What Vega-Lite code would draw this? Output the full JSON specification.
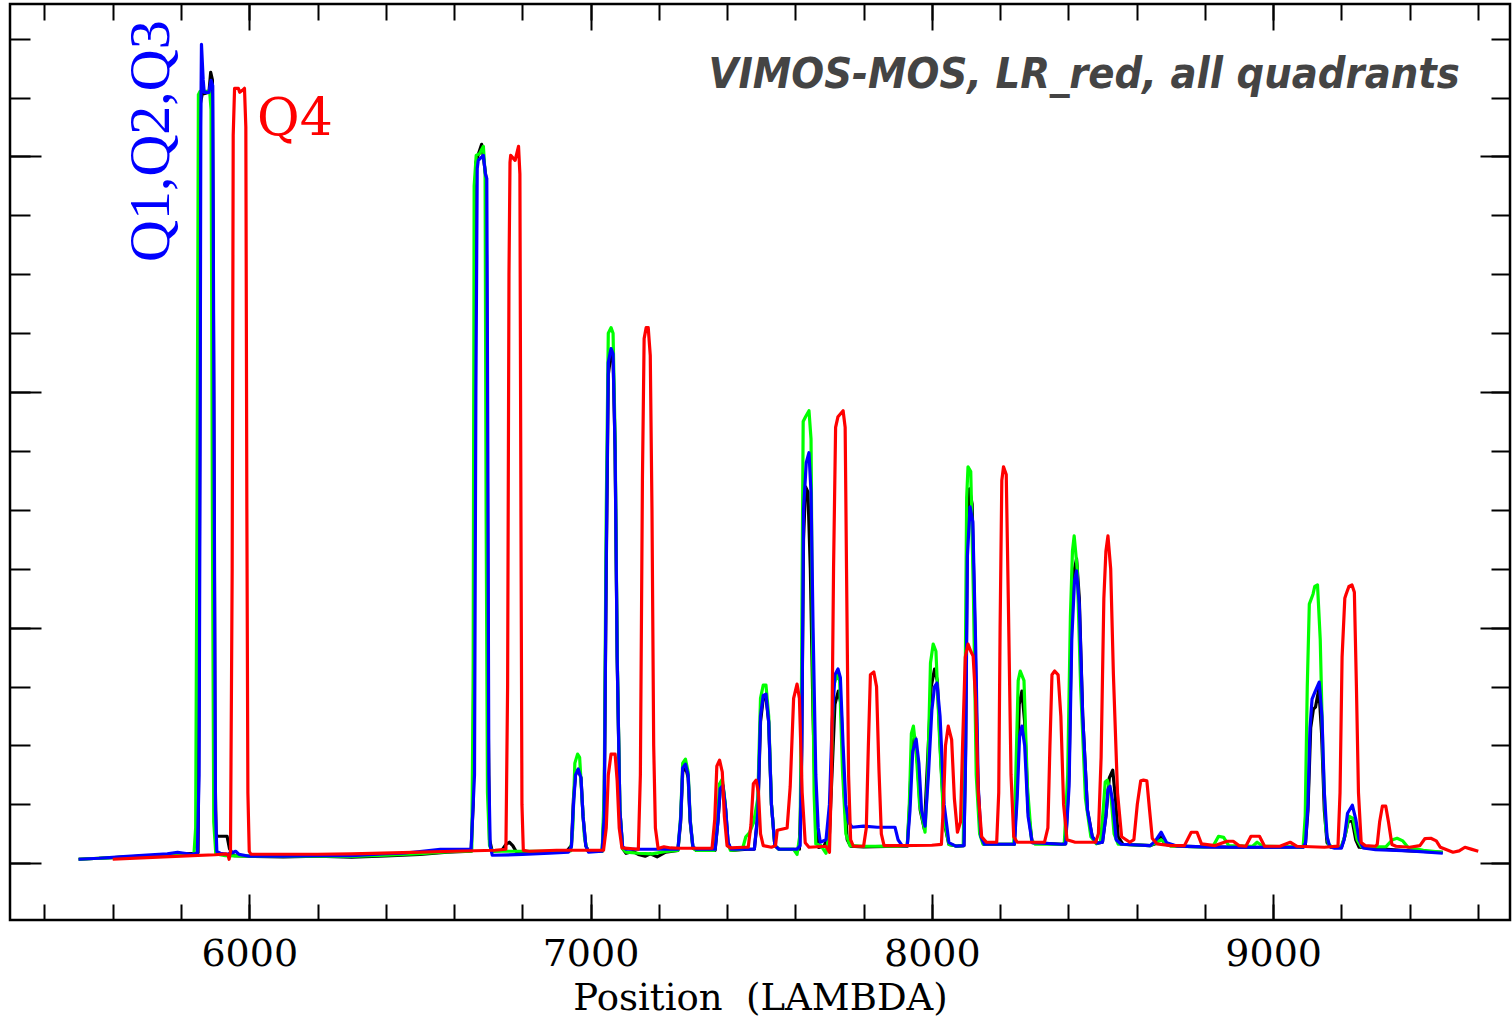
{
  "$schema": "https://vega.github.io/schema/vega-lite/v6.json",
  "width": 1500,
  "height": 916,
  "autosize": {"type": "none"},
  "padding": {"left": 10, "top": 4, "right": 2, "bottom": 97},
  "background": "white",
  "config": {
    "view": {"stroke": "black", "strokeWidth": 2.5},
    "axis": {"grid": false, "domain": false, "tickColor": "black", "tickWidth": 2, "labels": false}
  },
  "datasets": {
    "k": [
      {"x":5500,"y":68},{"x":5560,"y":85},{"x":5620,"y":100},{"x":5700,"y":125},{"x":5780,"y":150},{"x":5840,"y":170},{"x":5850,"y":180},
      {"x":5853,"y":3000},{"x":5857,"y":12900},{"x":5862,"y":13056},{"x":5882,"y":13090},{"x":5887,"y":13430},{"x":5892,"y":13300},{"x":5896,"y":8000},{"x":5900,"y":1500},{"x":5903,"y":480},{"x":5908,"y":459},{"x":5935,"y":459},{"x":5942,"y":250},{"x":5955,"y":130},
      {"x":6000,"y":119},{"x":6100,"y":110},{"x":6200,"y":119},{"x":6300,"y":102},{"x":6400,"y":125},{"x":6500,"y":150},{"x":6580,"y":190},{"x":6650,"y":204},
      {"x":6656,"y":1000},{"x":6660,"y":8000},{"x":6664,"y":11900},{"x":6672,"y":12050},{"x":6681,"y":12206},{"x":6688,"y":11900},{"x":6694,"y":11628},{"x":6697,"y":8000},{"x":6700,"y":2500},{"x":6704,"y":400},{"x":6712,"y":204},{"x":6740,"y":220},{"x":6752,"y":320},{"x":6762,"y":357},{"x":6772,"y":300},{"x":6782,"y":200},{"x":6820,"y":180},{"x":6880,"y":190},{"x":6930,"y":204},
      {"x":6944,"y":300},{"x":6950,"y":1100},{"x":6956,"y":1500},{"x":6964,"y":1598},{"x":6972,"y":1450},{"x":6978,"y":800},{"x":6986,"y":300},{"x":6994,"y":200},
      {"x":7034,"y":204},{"x":7040,"y":900},{"x":7046,"y":5000},{"x":7052,"y":8300},{"x":7060,"y":8653},{"x":7066,"y":8600},{"x":7072,"y":7000},{"x":7078,"y":3500},{"x":7086,"y":900},{"x":7094,"y":250},{"x":7104,"y":170},{"x":7125,"y":200},{"x":7140,"y":150},{"x":7160,"y":120},{"x":7175,"y":160},{"x":7195,"y":110},{"x":7220,"y":190},
      {"x":7256,"y":220},{"x":7264,"y":700},{"x":7270,"y":1550},{"x":7278,"y":1649},{"x":7286,"y":1450},{"x":7292,"y":700},{"x":7300,"y":260},{"x":7310,"y":220},
      {"x":7365,"y":220},{"x":7373,"y":700},{"x":7380,"y":1250},{"x":7388,"y":1309},{"x":7396,"y":900},{"x":7403,"y":350},{"x":7412,"y":220},{"x":7460,"y":238},
      {"x":7480,"y":240},{"x":7490,"y":800},{"x":7498,"y":2400},{"x":7506,"y":2800},{"x":7514,"y":2822},{"x":7522,"y":2400},{"x":7530,"y":1000},{"x":7540,"y":300},{"x":7552,"y":238},{"x":7600,"y":238},
      {"x":7612,"y":238},{"x":7618,"y":1500},{"x":7624,"y":5500},{"x":7630,"y":6392},{"x":7637,"y":6300},{"x":7644,"y":5000},{"x":7652,"y":2500},{"x":7660,"y":700},{"x":7668,"y":270},
      {"x":7684,"y":290},{"x":7700,"y":500},{"x":7708,"y":1600},{"x":7716,"y":2700},{"x":7726,"y":2924},{"x":7734,"y":2700},{"x":7742,"y":1300},{"x":7752,"y":400},{"x":7762,"y":290},{"x":7800,"y":280},{"x":7900,"y":290},
      {"x":7928,"y":290},{"x":7934,"y":900},{"x":7942,"y":2000},{"x":7950,"y":2142},{"x":7958,"y":1700},{"x":7966,"y":900},{"x":7978,"y":578},
      {"x":7988,"y":1800},{"x":7998,"y":3000},{"x":8008,"y":3298},{"x":8016,"y":3100},{"x":8026,"y":1800},{"x":8036,"y":700},{"x":8050,"y":320},{"x":8075,"y":290},
      {"x":8094,"y":300},{"x":8099,"y":2000},{"x":8104,"y":5600},{"x":8110,"y":6358},{"x":8118,"y":6100},{"x":8126,"y":4000},{"x":8134,"y":1500},{"x":8142,"y":500},{"x":8152,"y":323},{"x":8230,"y":323},
      {"x":8242,"y":323},{"x":8250,"y":1400},{"x":8256,"y":2700},{"x":8264,"y":2924},{"x":8272,"y":2400},{"x":8282,"y":900},{"x":8294,"y":350},{"x":8380,"y":323},
      {"x":8392,"y":330},{"x":8402,"y":1500},{"x":8410,"y":4300},{"x":8418,"y":5000},{"x":8424,"y":5168},{"x":8432,"y":4500},{"x":8442,"y":2500},{"x":8456,"y":900},{"x":8470,"y":450},{"x":8484,"y":340},
      {"x":8500,"y":360},{"x":8510,"y":800},{"x":8520,"y":1450},{"x":8530,"y":1581},{"x":8538,"y":1100},{"x":8546,"y":450},{"x":8560,"y":323},{"x":8640,"y":300},
      {"x":8655,"y":330},{"x":8668,"y":459},{"x":8685,"y":320},{"x":8720,"y":290},{"x":8800,"y":280},{"x":8900,"y":272},{"x":9000,"y":272},{"x":9085,"y":272},
      {"x":9094,"y":290},{"x":9102,"y":900},{"x":9110,"y":2300},{"x":9118,"y":2618},{"x":9124,"y":2650},{"x":9134,"y":2958},{"x":9142,"y":2200},{"x":9150,"y":900},{"x":9158,"y":350},{"x":9170,"y":272},
      {"x":9200,"y":272},{"x":9210,"y":450},{"x":9220,"y":714},{"x":9232,"y":714},{"x":9242,"y":400},{"x":9252,"y":272},{"x":9300,"y":250},{"x":9400,"y":210},{"x":9497,"y":187}
    ],
    "g": [
      {"x":5500,"y":68},{"x":5560,"y":85},{"x":5620,"y":100},{"x":5700,"y":120},{"x":5780,"y":135},{"x":5838,"y":153},
      {"x":5843,"y":600},{"x":5847,"y":6000},{"x":5851,"y":13050},{"x":5856,"y":13107},{"x":5884,"y":13107},{"x":5888,"y":12800},{"x":5892,"y":6000},{"x":5896,"y":700},{"x":5902,"y":160},{"x":5930,"y":130},{"x":5960,"y":125},
      {"x":6100,"y":119},{"x":6200,"y":119},{"x":6300,"y":115},{"x":6400,"y":140},{"x":6500,"y":165},{"x":6600,"y":200},{"x":6652,"y":204},
      {"x":6656,"y":3000},{"x":6659,"y":11500},{"x":6665,"y":12019},{"x":6675,"y":12050},{"x":6686,"y":12172},{"x":6691,"y":11700},{"x":6694,"y":6000},{"x":6698,"y":1200},{"x":6704,"y":300},{"x":6712,"y":204},{"x":6800,"y":204},{"x":6900,"y":204},
      {"x":6942,"y":210},{"x":6948,"y":600},{"x":6954,"y":1700},{"x":6962,"y":1853},{"x":6968,"y":1800},{"x":6974,"y":1200},{"x":6982,"y":450},{"x":6990,"y":220},
      {"x":7034,"y":204},{"x":7040,"y":1200},{"x":7046,"y":6000},{"x":7052,"y":9000},{"x":7060,"y":9095},{"x":7066,"y":9000},{"x":7072,"y":7200},{"x":7078,"y":3600},{"x":7086,"y":900},{"x":7094,"y":250},{"x":7104,"y":190},{"x":7140,"y":170},{"x":7180,"y":160},{"x":7220,"y":200},
      {"x":7256,"y":220},{"x":7264,"y":800},{"x":7270,"y":1700},{"x":7278,"y":1768},{"x":7286,"y":1550},{"x":7292,"y":750},{"x":7300,"y":260},{"x":7310,"y":220},
      {"x":7363,"y":220},{"x":7371,"y":650},{"x":7378,"y":1350},{"x":7386,"y":1428},{"x":7394,"y":1050},{"x":7401,"y":350},{"x":7410,"y":220},{"x":7445,"y":238},{"x":7455,"y":450},{"x":7466,"y":520},
      {"x":7478,"y":700},{"x":7490,"y":1100},{"x":7498,"y":2800},{"x":7506,"y":3026},{"x":7514,"y":3026},{"x":7522,"y":2500},{"x":7530,"y":1000},{"x":7540,"y":300},{"x":7552,"y":238},{"x":7595,"y":238},{"x":7605,"y":150},
      {"x":7614,"y":500},{"x":7618,"y":3000},{"x":7623,"y":7500},{"x":7630,"y":7582},{"x":7640,"y":7684},{"x":7646,"y":7200},{"x":7650,"y":4000},{"x":7655,"y":1200},{"x":7660,"y":330},{"x":7675,"y":300},{"x":7690,"y":170},
      {"x":7696,"y":400},{"x":7704,"y":1300},{"x":7712,"y":3000},{"x":7722,"y":3213},{"x":7730,"y":3100},{"x":7738,"y":1600},{"x":7748,"y":500},{"x":7760,"y":300},{"x":7800,"y":289},{"x":7900,"y":289},
      {"x":7928,"y":300},{"x":7934,"y":1000},{"x":7940,"y":2200},{"x":7946,"y":2329},{"x":7954,"y":1900},{"x":7964,"y":1000},{"x":7980,"y":527},
      {"x":7988,"y":1500},{"x":7996,"y":3400},{"x":8004,"y":3723},{"x":8012,"y":3600},{"x":8022,"y":2200},{"x":8034,"y":800},{"x":8050,"y":320},{"x":8075,"y":290},
      {"x":8092,"y":300},{"x":8097,"y":2500},{"x":8102,"y":6200},{"x":8106,"y":6732},{"x":8114,"y":6650},{"x":8122,"y":4500},{"x":8130,"y":1500},{"x":8140,"y":500},{"x":8150,"y":323},{"x":8230,"y":323},
      {"x":8240,"y":330},{"x":8246,"y":1500},{"x":8253,"y":3100},{"x":8259,"y":3264},{"x":8270,"y":3100},{"x":8280,"y":1300},{"x":8292,"y":400},{"x":8303,"y":323},{"x":8380,"y":323},
      {"x":8388,"y":330},{"x":8398,"y":1500},{"x":8406,"y":4200},{"x":8412,"y":5300},{"x":8417,"y":5559},{"x":8426,"y":5000},{"x":8436,"y":3000},{"x":8450,"y":1100},{"x":8466,"y":450},{"x":8482,"y":330},
      {"x":8494,"y":360},{"x":8502,"y":900},{"x":8508,"y":1380},{"x":8514,"y":1411},{"x":8524,"y":1200},{"x":8534,"y":500},{"x":8546,"y":323},{"x":8640,"y":300},{"x":8672,"y":400},{"x":8700,"y":290},{"x":8800,"y":280},
      {"x":8825,"y":300},{"x":8840,"y":459},{"x":8855,"y":440},{"x":8870,"y":300},{"x":8940,"y":289},{"x":8953,"y":357},{"x":8970,"y":290},{"x":9050,"y":280},{"x":9088,"y":280},
      {"x":9094,"y":800},{"x":9100,"y":3000},{"x":9106,"y":4400},{"x":9117,"y":4573},{"x":9122,"y":4700},{"x":9130,"y":4726},{"x":9138,"y":3800},{"x":9146,"y":1800},{"x":9154,"y":600},{"x":9162,"y":320},{"x":9172,"y":280},
      {"x":9200,"y":280},{"x":9212,"y":500},{"x":9222,"y":799},{"x":9234,"y":760},{"x":9246,"y":400},{"x":9258,"y":280},{"x":9330,"y":280},{"x":9350,"y":400},{"x":9363,"y":425},{"x":9380,"y":380},{"x":9395,"y":272},{"x":9440,"y":220},{"x":9497,"y":187}
    ],
    "u": [
      {"x":5500,"y":68},{"x":5560,"y":85},{"x":5620,"y":110},{"x":5700,"y":140},{"x":5760,"y":160},{"x":5790,"y":187},{"x":5810,"y":170},{"x":5830,"y":153},{"x":5848,"y":170},
      {"x":5853,"y":1500},{"x":5856,"y":7000},{"x":5858,"y":12500},{"x":5860,"y":13906},{"x":5865,"y":13300},{"x":5868,"y":13090},{"x":5882,"y":13090},{"x":5888,"y":13294},{"x":5893,"y":13200},{"x":5897,"y":7000},{"x":5901,"y":900},{"x":5905,"y":200},{"x":5915,"y":170},{"x":5935,"y":153},{"x":5950,"y":180},{"x":5960,"y":204},{"x":5970,"y":150},{"x":6000,"y":119},
      {"x":6100,"y":119},{"x":6200,"y":130},{"x":6300,"y":130},{"x":6400,"y":165},{"x":6450,"y":170},{"x":6500,"y":200},{"x":6560,"y":238},{"x":6650,"y":238},
      {"x":6660,"y":1500},{"x":6664,"y":8000},{"x":6668,"y":11800},{"x":6671,"y":11934},{"x":6686,"y":12019},{"x":6692,"y":11700},{"x":6696,"y":11628},{"x":6699,"y":7000},{"x":6702,"y":1500},{"x":6706,"y":300},{"x":6712,"y":136},{"x":6800,"y":150},{"x":6880,"y":170},{"x":6935,"y":187},
      {"x":6944,"y":280},{"x":6950,"y":1000},{"x":6956,"y":1500},{"x":6964,"y":1598},{"x":6972,"y":1450},{"x":6978,"y":800},{"x":6986,"y":300},{"x":6994,"y":190},
      {"x":7034,"y":204},{"x":7040,"y":800},{"x":7046,"y":5200},{"x":7052,"y":8500},{"x":7060,"y":8738},{"x":7066,"y":8650},{"x":7072,"y":7000},{"x":7078,"y":3500},{"x":7086,"y":900},{"x":7094,"y":280},{"x":7104,"y":238},{"x":7150,"y":238},{"x":7200,"y":238},
      {"x":7256,"y":238},{"x":7264,"y":750},{"x":7270,"y":1620},{"x":7278,"y":1683},{"x":7286,"y":1500},{"x":7292,"y":720},{"x":7300,"y":280},{"x":7310,"y":238},
      {"x":7365,"y":238},{"x":7373,"y":700},{"x":7380,"y":1270},{"x":7388,"y":1326},{"x":7396,"y":920},{"x":7403,"y":350},{"x":7412,"y":238},{"x":7460,"y":238},
      {"x":7480,"y":240},{"x":7490,"y":850},{"x":7498,"y":2500},{"x":7506,"y":2850},{"x":7514,"y":2873},{"x":7522,"y":2400},{"x":7530,"y":1000},{"x":7540,"y":300},{"x":7552,"y":238},{"x":7605,"y":238},
      {"x":7614,"y":300},{"x":7619,"y":2000},{"x":7624,"y":6000},{"x":7632,"y":6800},{"x":7640,"y":6970},{"x":7646,"y":6300},{"x":7652,"y":4000},{"x":7660,"y":1500},{"x":7667,"y":600},{"x":7673,"y":357},
      {"x":7690,"y":400},{"x":7700,"y":1000},{"x":7708,"y":2400},{"x":7716,"y":3200},{"x":7725,"y":3298},{"x":7732,"y":3150},{"x":7740,"y":2000},{"x":7748,"y":1000},{"x":7756,"y":700},{"x":7766,"y":612},{"x":7800,"y":630},{"x":7840,"y":612},{"x":7892,"y":612},{"x":7901,"y":400},{"x":7913,"y":300},
      {"x":7928,"y":300},{"x":7936,"y":900},{"x":7944,"y":1900},{"x":7954,"y":2108},{"x":7962,"y":1700},{"x":7970,"y":900},{"x":7980,"y":629},
      {"x":7990,"y":1500},{"x":8000,"y":2600},{"x":8008,"y":3000},{"x":8015,"y":3060},{"x":8024,"y":2500},{"x":8036,"y":1000},{"x":8050,"y":350},{"x":8070,"y":290},
      {"x":8094,"y":300},{"x":8099,"y":1800},{"x":8104,"y":5200},{"x":8112,"y":6052},{"x":8120,"y":5800},{"x":8128,"y":3800},{"x":8136,"y":1300},{"x":8144,"y":450},{"x":8154,"y":323},{"x":8230,"y":323},
      {"x":8242,"y":323},{"x":8250,"y":1100},{"x":8257,"y":2150},{"x":8264,"y":2329},{"x":8272,"y":2000},{"x":8282,"y":800},{"x":8294,"y":350},{"x":8380,"y":323},
      {"x":8392,"y":330},{"x":8402,"y":1300},{"x":8410,"y":3800},{"x":8418,"y":4800},{"x":8424,"y":4964},{"x":8432,"y":4400},{"x":8442,"y":2500},{"x":8456,"y":900},{"x":8470,"y":450},{"x":8484,"y":340},
      {"x":8500,"y":360},{"x":8510,"y":800},{"x":8516,"y":1250},{"x":8522,"y":1309},{"x":8530,"y":1050},{"x":8540,"y":400},{"x":8555,"y":323},{"x":8640,"y":300},
      {"x":8655,"y":380},{"x":8672,"y":527},{"x":8688,"y":350},{"x":8720,"y":290},{"x":8800,"y":280},{"x":8900,"y":272},{"x":9000,"y":272},{"x":9088,"y":272},
      {"x":9095,"y":350},{"x":9102,"y":1000},{"x":9108,"y":2300},{"x":9114,"y":2788},{"x":9122,"y":2900},{"x":9135,"y":3077},{"x":9143,"y":2500},{"x":9150,"y":1200},{"x":9158,"y":450},{"x":9166,"y":280},{"x":9180,"y":255},
      {"x":9200,"y":255},{"x":9208,"y":400},{"x":9218,"y":850},{"x":9232,"y":986},{"x":9242,"y":750},{"x":9252,"y":400},{"x":9264,"y":260},{"x":9300,"y":230},{"x":9400,"y":210},{"x":9497,"y":170}
    ],
    "r": [
      {"x":5600,"y":68},{"x":5700,"y":95},{"x":5800,"y":120},{"x":5900,"y":145},{"x":5932,"y":160},{"x":5938,"y":140},{"x":5941,"y":68},{"x":5945,"y":200},
      {"x":5950,"y":5000},{"x":5953,"y":12359},{"x":5957,"y":13158},{"x":5968,"y":13158},{"x":5972,"y":13090},{"x":5980,"y":13124},{"x":5986,"y":13158},{"x":5990,"y":12500},{"x":5993,"y":6000},{"x":5996,"y":1200},{"x":6000,"y":200},{"x":6005,"y":153},{"x":6100,"y":153},{"x":6200,"y":153},{"x":6300,"y":160},{"x":6450,"y":180},{"x":6600,"y":204},{"x":6720,"y":221},{"x":6752,"y":238},
      {"x":6757,"y":3000},{"x":6761,"y":10000},{"x":6764,"y":11900},{"x":6766,"y":12019},{"x":6779,"y":11934},{"x":6789,"y":12172},{"x":6793,"y":11700},{"x":6796,"y":6000},{"x":6799,"y":1000},{"x":6803,"y":220},{"x":6820,"y":204},{"x":6900,"y":221},{"x":7000,"y":221},{"x":7038,"y":221},
      {"x":7046,"y":600},{"x":7052,"y":1500},{"x":7060,"y":1853},{"x":7072,"y":1853},{"x":7078,"y":1400},{"x":7084,"y":600},{"x":7092,"y":260},
      {"x":7140,"y":238},{"x":7146,"y":1500},{"x":7152,"y":6500},{"x":7157,"y":8908},{"x":7163,"y":9095},{"x":7169,"y":9095},{"x":7175,"y":8619},{"x":7180,"y":6000},{"x":7185,"y":2000},{"x":7190,"y":600},{"x":7198,"y":250},{"x":7215,"y":280},{"x":7235,"y":260},{"x":7260,"y":255},
      {"x":7356,"y":255},{"x":7364,"y":750},{"x":7370,"y":1650},{"x":7378,"y":1751},{"x":7386,"y":1550},{"x":7392,"y":800},{"x":7400,"y":300},{"x":7410,"y":260},{"x":7450,"y":272},
      {"x":7462,"y":272},{"x":7470,"y":650},{"x":7477,"y":1350},{"x":7485,"y":1411},{"x":7492,"y":1200},{"x":7498,"y":500},{"x":7506,"y":300},{"x":7530,"y":272},{"x":7542,"y":300},{"x":7547,"y":560},{"x":7576,"y":600},
      {"x":7585,"y":1300},{"x":7595,"y":2800},{"x":7605,"y":3043},{"x":7612,"y":2800},{"x":7620,"y":1200},{"x":7629,"y":350},{"x":7640,"y":272},{"x":7690,"y":289},{"x":7700,"y":187},
      {"x":7706,"y":1500},{"x":7712,"y":5000},{"x":7718,"y":7400},{"x":7725,"y":7582},{"x":7740,"y":7684},{"x":7746,"y":7400},{"x":7750,"y":5000},{"x":7756,"y":1500},{"x":7762,"y":400},{"x":7770,"y":289},{"x":7800,"y":289},
      {"x":7808,"y":600},{"x":7814,"y":2000},{"x":7820,"y":3200},{"x":7830,"y":3247},{"x":7838,"y":3000},{"x":7845,"y":1600},{"x":7852,"y":500},{"x":7860,"y":300},{"x":7900,"y":300},{"x":8000,"y":306},{"x":8028,"y":320},
      {"x":8034,"y":1000},{"x":8040,"y":2000},{"x":8048,"y":2329},{"x":8058,"y":2100},{"x":8066,"y":1100},{"x":8075,"y":527},{"x":8084,"y":700},
      {"x":8090,"y":2000},{"x":8098,"y":3500},{"x":8106,"y":3723},{"x":8114,"y":3600},{"x":8121,"y":3519},{"x":8128,"y":2800},{"x":8136,"y":1200},{"x":8146,"y":450},{"x":8160,"y":357},{"x":8190,"y":357},
      {"x":8196,"y":1200},{"x":8200,"y":4000},{"x":8205,"y":6500},{"x":8210,"y":6732},{"x":8218,"y":6600},{"x":8224,"y":4500},{"x":8232,"y":1500},{"x":8240,"y":450},{"x":8250,"y":357},{"x":8330,"y":357},
      {"x":8340,"y":600},{"x":8346,"y":2000},{"x":8352,"y":3200},{"x":8360,"y":3264},{"x":8370,"y":3200},{"x":8378,"y":2500},{"x":8386,"y":1000},{"x":8396,"y":400},{"x":8420,"y":357},{"x":8480,"y":357},
      {"x":8488,"y":500},{"x":8496,"y":1800},{"x":8504,"y":4500},{"x":8510,"y":5300},{"x":8516,"y":5559},{"x":8524,"y":5000},{"x":8532,"y":3200},{"x":8544,"y":1200},{"x":8556,"y":450},{"x":8580,"y":357},
      {"x":8592,"y":400},{"x":8602,"y":1000},{"x":8612,"y":1400},{"x":8620,"y":1411},{"x":8630,"y":1400},{"x":8638,"y":900},{"x":8646,"y":420},{"x":8660,"y":330},{"x":8700,"y":300},{"x":8740,"y":300},{"x":8760,"y":527},{"x":8777,"y":527},{"x":8790,"y":330},{"x":8830,"y":300},{"x":8865,"y":374},{"x":8883,"y":374},{"x":8900,"y":300},{"x":8920,"y":289},{"x":8935,"y":459},{"x":8960,"y":459},{"x":8975,"y":289},{"x":9020,"y":289},{"x":9050,"y":357},{"x":9070,"y":289},{"x":9150,"y":272},{"x":9190,"y":290},
      {"x":9196,"y":1200},{"x":9202,"y":3500},{"x":9210,"y":4500},{"x":9214,"y":4573},{"x":9222,"y":4700},{"x":9231,"y":4726},{"x":9238,"y":4600},{"x":9244,"y":3000},{"x":9250,"y":1200},{"x":9258,"y":350},{"x":9270,"y":300},{"x":9300,"y":289},
      {"x":9305,"y":320},{"x":9312,"y":700},{"x":9320,"y":969},{"x":9330,"y":969},{"x":9338,"y":700},{"x":9348,"y":320},{"x":9360,"y":289},{"x":9400,"y":272},{"x":9430,"y":300},{"x":9445,"y":420},{"x":9462,"y":425},{"x":9478,"y":380},{"x":9490,"y":272},{"x":9527,"y":187},{"x":9545,"y":210},{"x":9562,"y":272},{"x":9580,"y":240},{"x":9601,"y":204}
    ],
    "title": [{"x": 9547, "y": 13163, "t": "VIMOS-MOS, LR_red, all quadrants"}],
    "q4": [{"x": 6023, "y": 12365, "t": "Q4"}],
    "q123": [{"x": 5765, "y": 10209, "t": "Q1,Q2,Q3"}]
  },
  "layer": [
    {
      "data": {"name": "k"},
      "mark": {"type": "line", "color": "black", "strokeWidth": 3.2, "strokeJoin": "round", "clip": true},
      "encoding": {
        "x": {"field": "x", "type": "quantitative", "scale": {"domain": [5299, 9694], "nice": false, "zero": false},
              "axis": {"orient": "bottom", "values": [5400,5600,5800,6000,6200,6400,6600,6800,7000,7200,7400,7600,7800,8000,8200,8400,8600,8800,9000,9200,9400,9600], "tickSize": -16, "title": null}},
        "y": {"field": "y", "type": "quantitative", "scale": {"domain": [-963, 14589], "nice": false, "zero": false},
              "axis": {"orient": "left", "values": [0,1000,2000,3000,4000,5000,6000,7000,8000,9000,10000,11000,12000,13000,14000], "tickSize": -20, "title": null}}
      }
    },
    {
      "data": {"name": "g"},
      "mark": {"type": "line", "color": "#00ff00", "strokeWidth": 3.2, "strokeJoin": "round", "clip": true},
      "encoding": {
        "x": {"field": "x", "type": "quantitative", "scale": {"domain": [5299, 9694], "nice": false, "zero": false},
              "axis": {"orient": "bottom", "values": [6000,7000,8000,9000], "tickSize": -26, "title": null}},
        "y": {"field": "y", "type": "quantitative", "scale": {"domain": [-963, 14589], "nice": false, "zero": false},
              "axis": {"orient": "left", "values": [0,4000,8000,12000], "tickSize": -31, "title": null}}
      }
    },
    {
      "data": {"name": "u"},
      "mark": {"type": "line", "color": "#0000ff", "strokeWidth": 3.2, "strokeJoin": "round", "clip": true},
      "encoding": {
        "x": {"field": "x", "type": "quantitative", "scale": {"domain": [5299, 9694], "nice": false, "zero": false},
              "axis": {"orient": "top", "values": [5400,5600,5800,6000,6200,6400,6600,6800,7000,7200,7400,7600,7800,8000,8200,8400,8600,8800,9000,9200,9400,9600], "tickSize": -16, "title": null}},
        "y": {"field": "y", "type": "quantitative", "scale": {"domain": [-963, 14589], "nice": false, "zero": false},
              "axis": {"orient": "right", "values": [0,1000,2000,3000,4000,5000,6000,7000,8000,9000,10000,11000,12000,13000,14000], "tickSize": -19, "title": null}}
      }
    },
    {
      "data": {"name": "r"},
      "mark": {"type": "line", "color": "#ff0000", "strokeWidth": 3.2, "strokeJoin": "round", "clip": true},
      "encoding": {
        "x": {"field": "x", "type": "quantitative", "scale": {"domain": [5299, 9694], "nice": false, "zero": false},
              "axis": {"orient": "top", "values": [6000,7000,8000,9000], "tickSize": -26, "title": null}},
        "y": {"field": "y", "type": "quantitative", "scale": {"domain": [-963, 14589], "nice": false, "zero": false},
              "axis": {"orient": "right", "values": [0,4000,8000,12000], "tickSize": -30, "title": null}}
      }
    },
    {
      "data": {"name": "title"},
      "mark": {"type": "text", "align": "right", "baseline": "alphabetic", "font": "Liberation Sans Narrow, DejaVu Sans Condensed, sans-serif", "fontSize": 43, "fontWeight": "bold", "fontStyle": "italic", "color": "#444444"},
      "encoding": {
        "x": {"field": "x", "type": "quantitative", "scale": {"domain": [5299, 9694], "nice": false, "zero": false},
              "axis": {"orient": "bottom", "values": [6000,7000,8000,9000], "format": "d", "ticks": false, "labels": true, "labelFont": "DejaVu Serif", "labelFontSize": 38, "labelColor": "black", "labelPadding": 15, "labelFlush": false,
                       "title": "Position\u00a0\u00a0(LAMBDA)", "titleFont": "DejaVu Serif", "titleFontSize": 37, "titleFontWeight": "normal", "titleColor": "black", "titlePadding": 7}},
        "y": {"field": "y", "type": "quantitative", "scale": {"domain": [-963, 14589], "nice": false, "zero": false}, "axis": null},
        "text": {"field": "t"}
      }
    },
    {
      "data": {"name": "q4"},
      "mark": {"type": "text", "align": "left", "baseline": "alphabetic", "font": "DejaVu Serif", "fontSize": 52, "color": "#ff0000"},
      "encoding": {
        "x": {"field": "x", "type": "quantitative", "scale": {"domain": [5299, 9694], "nice": false, "zero": false}, "axis": null},
        "y": {"field": "y", "type": "quantitative", "scale": {"domain": [-963, 14589], "nice": false, "zero": false}, "axis": null},
        "text": {"field": "t"}
      }
    },
    {
      "data": {"name": "q123"},
      "mark": {"type": "text", "align": "left", "baseline": "alphabetic", "angle": 270, "font": "Liberation Serif", "fontSize": 58, "color": "#0000ff"},
      "encoding": {
        "x": {"field": "x", "type": "quantitative", "scale": {"domain": [5299, 9694], "nice": false, "zero": false}, "axis": null},
        "y": {"field": "y", "type": "quantitative", "scale": {"domain": [-963, 14589], "nice": false, "zero": false}, "axis": null},
        "text": {"field": "t"}
      }
    }
  ],
  "resolve": {"scale": {"x": "independent", "y": "independent"}}
}
